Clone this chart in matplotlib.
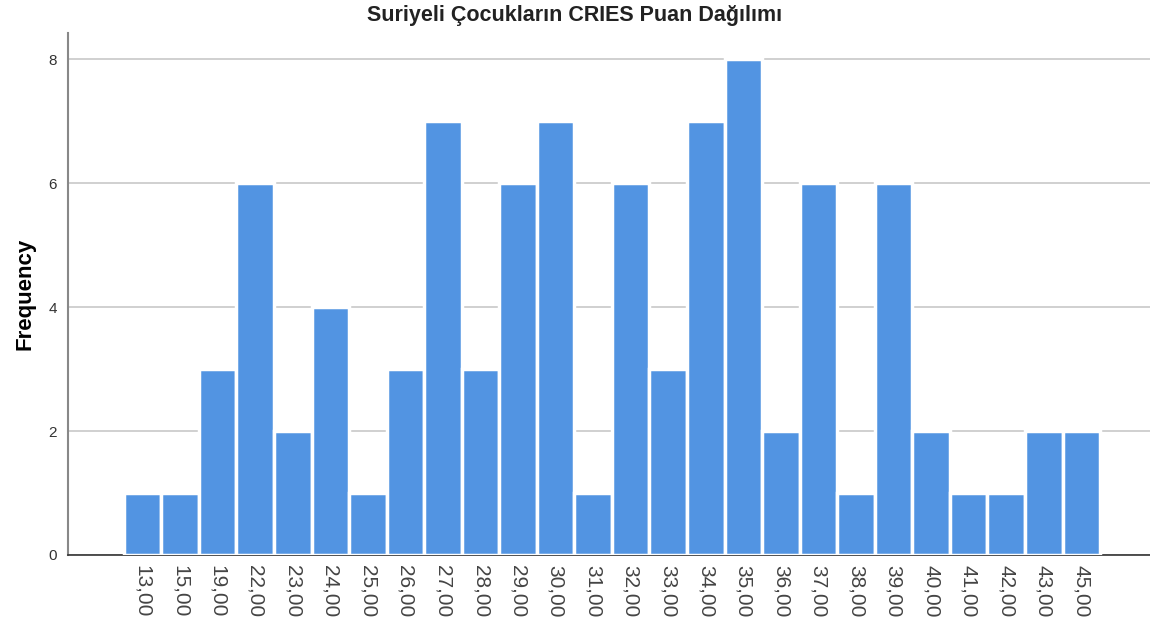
import matplotlib
matplotlib.use("Agg")
import matplotlib.pyplot as plt
import numpy as np

plt.rcParams['font.family'] = ['Liberation Sans', 'DejaVu Sans']

# CRIES scores and their frequencies
scores = ["13,00", "15,00", "19,00", "22,00", "23,00", "24,00", "25,00", "26,00",
          "27,00", "28,00", "29,00", "30,00", "31,00", "32,00", "33,00", "34,00",
          "35,00", "36,00", "37,00", "38,00", "39,00", "40,00", "41,00", "42,00",
          "43,00", "45,00"]
freq = [1, 1, 3, 6, 2, 4, 1, 3, 7, 3, 6, 7, 1, 6, 3, 7, 8, 2, 6, 1, 6, 2, 1, 1, 2, 2]
yticks = [0, 2, 4, 6, 8]

fig = plt.figure(figsize=(11.5, 6.25), dpi=100)
ax = fig.add_axes([0.059, 0.112, 0.941, 0.835])

x = np.arange(len(scores))
ax.bar(x, freq, width=1.0, color="#5294E2", edgecolor="white", linewidth=2.5, zorder=3)

ax.set_xlim(-1.99, 26.83)
ax.set_ylim(0, 8.42)
ax.set_yticks(yticks)
ax.set_yticklabels([str(v) for v in yticks], fontsize=11, color="#333333")
ax.yaxis.grid(True, color="#c8c8c8", linewidth=1.2, zorder=0)
ax.tick_params(axis="y", length=0, pad=8)

ax.set_xticks(x)
ax.set_xticklabels(scores, rotation=270, fontsize=15, color="#444444")
ax.tick_params(axis="x", length=0, pad=7)

for side in ["top", "right"]:
    ax.spines[side].set_visible(False)
ax.spines["left"].set_color("#888888")
ax.spines["bottom"].set_color("#333333")
ax.spines["left"].set_linewidth(1.5)
ax.spines["bottom"].set_linewidth(1.2)

ax.set_ylabel("Frequency", fontsize=16, fontweight="bold")
ax.yaxis.set_label_coords(-0.030, 0.5)
fig.text(0.5, 0.975, "Suriyeli Çocukların CRIES Puan Dağılımı", ha="center",
         va="center", fontsize=15.5, fontweight="bold", color="#222222")

plt.savefig("out.png", dpi=100)
